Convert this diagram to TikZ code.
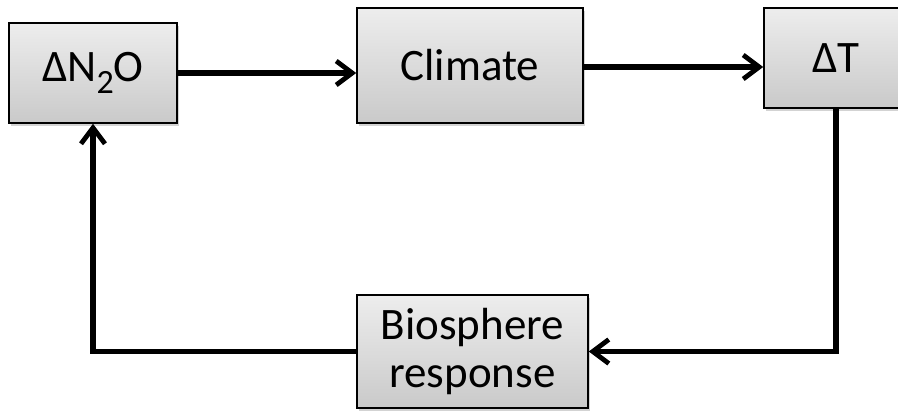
\documentclass[tikz,border=0pt]{standalone}
\usepackage{fontspec}
\setmainfont{Carlito}
\usetikzlibrary{arrows.meta,shadows}

\tikzset{
  varbox/.style={draw=black, line width=0.8pt, top color=gray!14, bottom color=gray!42,
    drop shadow={opacity=0.35, shadow xshift=1.2pt, shadow yshift=-1.5pt},
    align=center, inner sep=0pt, font=\fontsize{22.5}{24}\selectfont},
  link/.style={line width=2.6pt, -{Straight Barb[length=8pt,width=12pt,line width=2.4pt]}}
}

\begin{document}
\begin{tikzpicture}[x=0.5pt,y=-0.5pt]
  \useasboundingbox (0,0) rectangle (898,412);

  \node[varbox, minimum width=84pt, minimum height=50pt] (dn2o) at (93,73)
    {ΔN\raisebox{-6pt}{\fontsize{17}{17}\selectfont 2}O};
  \node[varbox, minimum width=113pt, minimum height=57.5pt] (clim) at (470,65.5) {Climate};
  \node[varbox, minimum width=72pt, minimum height=50pt] (dT) at (836,58) {ΔT};
  \node[varbox, minimum width=115.5pt, minimum height=56.5pt] (bio) at (472.5,351.5)
    {Biosphere\\response};

  \draw[link] (dn2o.east |- 0,73) -- (clim.west |- 0,73);
  \draw[link] (clim.east |- 0,67) -- (dT.west |- 0,67);
  \draw[link] (dT.south) |- (bio.east);
  \draw[link] (bio.west) -| (dn2o.south);
\end{tikzpicture}
\end{document}
